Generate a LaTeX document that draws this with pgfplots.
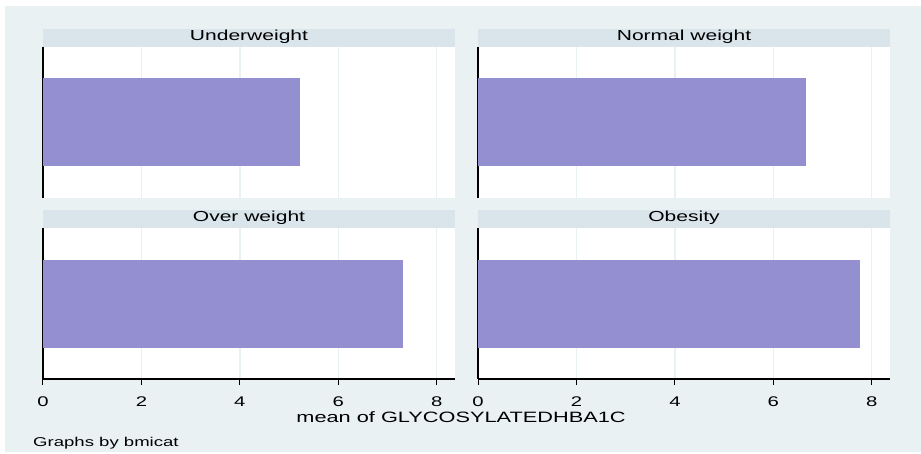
\documentclass[border=0pt]{standalone}
\usepackage{fontspec}
\setmainfont{Liberation Sans}[FakeStretch=1.45]
\usepackage{pgfplots}
\pgfplotsset{compat=1.18}
\definecolor{bgc}{RGB}{233,241,243}
\definecolor{stripc}{RGB}{217,229,235}
\definecolor{barc}{RGB}{147,143,209}
\definecolor{gridc}{RGB}{233,241,243}
\pgfplotsset{
 every axis title shift=0pt,
 panel/.style={
  scale only axis, width=412pt, height=151pt,
  anchor=south west,
  xmin=0, xmax=8.37, ymin=0, ymax=1,
  xbar, bar width=88pt,
  ytick=\empty,
  xtick={0,2,4,6,8},
  xmajorgrids, major grid style={draw=gridc, line width=1.3pt},
  axis background/.style={fill=white},
  axis x line*=bottom, axis y line*=left,
  axis line style={-, black, line width=1.2pt},
  tick style={black, line width=1pt},
  tick align=outside, major tick length=5.5pt,
  /pgf/number format/assume math mode=true,
  xticklabel style={font=\fontsize{14}{14}\selectfont, anchor=base, yshift=-21.5pt},
  title style={fill=stripc, minimum width=412pt, minimum height=18pt, inner sep=0pt,
     text height=11pt, text depth=5pt, anchor=south, at={(0.5,1)}, yshift=0pt,
     font=\fontsize{14.5}{14.5}\selectfont},
 },
 toppanel/.style={panel, x axis line style={draw=none}, xticklabels={}, major tick length=0pt},
 bottompanel/.style={panel},
}
\begin{document}
\begin{tikzpicture}
\useasboundingbox (0,0) rectangle (921pt,453pt);
\fill[white] (0,0) rectangle (921pt,453pt);
\fill[bgc] (5pt,1pt) rectangle (921pt,447pt);

\begin{axis}[toppanel, at={(43pt,255pt)}, title={Underweight}]
\addplot[fill=barc, draw=none] coordinates {(5.22,0.5)};
\end{axis}
\begin{axis}[toppanel, at={(478pt,255pt)}, title={Normal weight}]
\addplot[fill=barc, draw=none] coordinates {(6.67,0.5)};
\end{axis}
\begin{axis}[bottompanel, at={(43pt,74pt)}, title={Over weight}]
\addplot[fill=barc, draw=none] coordinates {(7.32,0.5)};
\end{axis}
\begin{axis}[bottompanel, at={(478pt,74pt)}, title={Obesity}]
\addplot[fill=barc, draw=none] coordinates {(7.76,0.5)};
\end{axis}

\node[anchor=base, inner sep=0pt, font=\fontsize{15}{15}\selectfont] at (461pt,31pt) {mean of GLYCOSYLATEDHBA1C};
\node[anchor=base west, inner sep=0pt, font=\fontsize{12.8}{12.8}\selectfont] at (33pt,7pt) {Graphs by bmicat};
\end{tikzpicture}
\end{document}
